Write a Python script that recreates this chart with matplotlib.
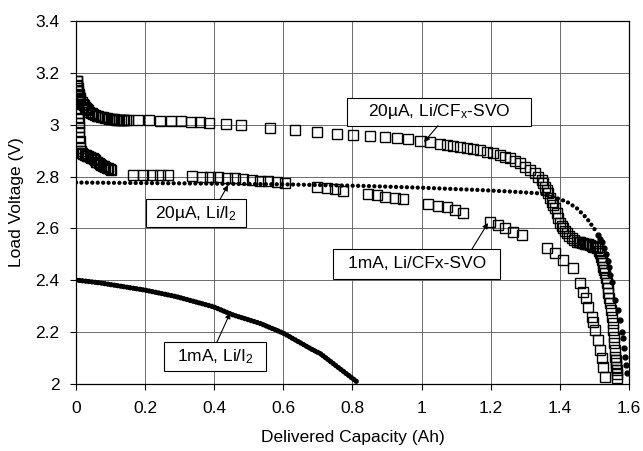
import numpy as np
import matplotlib.pyplot as plt
from matplotlib.patches import Rectangle
from matplotlib.ticker import FormatStrFormatter

plt.rcParams['font.family'] = ['Liberation Sans', 'DejaVu Sans']
plt.rcParams['mathtext.default'] = 'regular'

# 20uA, Li/CFx-SVO (open squares)
svo_20_x = [0.003, 0.004, 0.005, 0.006, 0.008, 0.009, 0.011, 0.013, 0.016, 0.019,
            0.022, 0.025, 0.028, 0.031, 0.035, 0.038, 0.042, 0.046, 0.050,
            0.055, 0.060, 0.065, 0.071, 0.077, 0.083, 0.090, 0.095, 0.100, 0.105,
            0.110, 0.115, 0.120, 0.125, 0.130, 0.135, 0.140, 0.145, 0.150,
            0.178, 0.211, 0.243, 0.274, 0.303, 0.332, 0.359, 0.386, 0.434, 0.477,
            0.561, 0.634, 0.697, 0.755, 0.801, 0.850, 0.894, 0.929, 0.961, 0.995,
            1.024, 1.053, 1.074, 1.091, 1.111, 1.131, 1.149, 1.169, 1.189, 1.207,
            1.227, 1.241, 1.256, 1.270, 1.285, 1.299, 1.314, 1.328, 1.337, 1.347,
            1.352, 1.357, 1.362, 1.366, 1.371, 1.376, 1.381, 1.386, 1.391, 1.395,
            1.400, 1.405, 1.410, 1.415, 1.420, 1.427, 1.435, 1.442, 1.449, 1.454,
            1.458, 1.463, 1.467, 1.472, 1.477, 1.482, 1.487, 1.492, 1.497, 1.502,
            1.507, 1.512, 1.516, 1.519, 1.522, 1.524, 1.525, 1.528, 1.531, 1.534,
            1.536, 1.538, 1.539, 1.542, 1.545, 1.548, 1.551, 1.553, 1.554, 1.556,
            1.558, 1.559, 1.560, 1.561, 1.562, 1.563, 1.564, 1.565, 1.565]
svo_20_v = [3.170, 3.150, 3.140, 3.130, 3.120, 3.110, 3.102, 3.095, 3.087, 3.080,
            3.075, 3.070, 3.065, 3.060, 3.055, 3.050, 3.047, 3.044, 3.041,
            3.038, 3.035, 3.033, 3.031, 3.029, 3.027, 3.025, 3.023, 3.022, 3.021,
            3.021, 3.020, 3.020, 3.020, 3.020, 3.019, 3.019, 3.018, 3.018,
            3.018, 3.017, 3.016, 3.015, 3.013, 3.011, 3.009, 3.007, 3.002, 3.000,
            2.988, 2.978, 2.970, 2.964, 2.960, 2.957, 2.953, 2.950, 2.946, 2.939,
            2.934, 2.926, 2.922, 2.919, 2.915, 2.911, 2.907, 2.902, 2.896, 2.890,
            2.883, 2.877, 2.871, 2.861, 2.851, 2.838, 2.825, 2.813, 2.800, 2.787,
            2.774, 2.761, 2.748, 2.735, 2.719, 2.703, 2.690, 2.678, 2.658, 2.639,
            2.619, 2.610, 2.600, 2.590, 2.581, 2.572, 2.562, 2.555, 2.549, 2.547,
            2.546, 2.545, 2.543, 2.541, 2.540, 2.538, 2.536, 2.533, 2.530, 2.527,
            2.523, 2.514, 2.504, 2.491, 2.478, 2.465, 2.452, 2.440, 2.427, 2.407,
            2.388, 2.369, 2.350, 2.330, 2.311, 2.285, 2.260, 2.234, 2.208, 2.183,
            2.157, 2.131, 2.105, 2.092, 2.079, 2.066, 2.054, 2.038, 2.022]

# 1mA, Li/CFx-SVO (open squares)
svo_1m_x = [0.003, 0.004, 0.004, 0.005, 0.005, 0.006, 0.006, 0.007, 0.007, 0.008,
            0.008, 0.009, 0.010, 0.011, 0.012, 0.014, 0.017, 0.021, 0.025, 0.029,
            0.033, 0.036, 0.040, 0.044, 0.048, 0.051, 0.055, 0.059, 0.062, 0.066,
            0.070, 0.073, 0.077, 0.081, 0.085, 0.089, 0.093, 0.097, 0.100,
            0.166, 0.193, 0.219, 0.243, 0.267,
            0.335, 0.364, 0.388, 0.412, 0.436, 0.460, 0.484, 0.508, 0.532, 0.556,
            0.581, 0.605,
            0.697, 0.726, 0.749, 0.773,
            0.845, 0.871, 0.894, 0.923, 0.946,
            1.019, 1.048, 1.074, 1.097, 1.120,
            1.198, 1.221, 1.241, 1.264, 1.290,
            1.362, 1.386, 1.410, 1.437,
            1.458, 1.467, 1.476, 1.482, 1.493, 1.496, 1.502, 1.510, 1.516, 1.522,
            1.525, 1.531]
svo_1m_v = [3.170, 3.152, 3.134, 3.116, 3.098, 3.080, 3.062, 3.044, 3.026, 3.008,
            2.990, 2.972, 2.954, 2.936, 2.910, 2.898, 2.890, 2.887, 2.885, 2.883,
            2.880, 2.879, 2.877, 2.873, 2.870, 2.866, 2.862, 2.858, 2.855, 2.851,
            2.848, 2.845, 2.842, 2.840, 2.837, 2.834, 2.832, 2.829, 2.827,
            2.806, 2.806, 2.806, 2.806, 2.806,
            2.803, 2.799, 2.799, 2.797, 2.796, 2.794, 2.791, 2.787, 2.784, 2.781,
            2.778, 2.775,
            2.759, 2.755, 2.751, 2.745,
            2.733, 2.729, 2.722, 2.718, 2.713,
            2.693, 2.687, 2.681, 2.671, 2.661,
            2.626, 2.613, 2.600, 2.587, 2.575,
            2.523, 2.504, 2.478, 2.446,
            2.388, 2.356, 2.330, 2.298, 2.260, 2.240, 2.208, 2.170, 2.131, 2.100,
            2.067, 2.028]

# 20uA, Li/I2 (dots) - plateau and tail
li_20_x = [0.000, 0.300, 0.600, 0.830, 1.000, 1.170, 1.260, 1.343, 1.380, 1.420,
           1.449, 1.478, 1.502]
li_20_v = [2.777, 2.774, 2.770, 2.764, 2.757, 2.748, 2.742, 2.735, 2.722, 2.703,
           2.678, 2.639, 2.594]
li_20_tail_x = [1.510, 1.516, 1.521, 1.528, 1.534, 1.538, 1.541, 1.545, 1.550,
                1.560, 1.567, 1.574, 1.579, 1.582, 1.586, 1.589, 1.591, 1.593]
li_20_tail_v = [2.575, 2.560, 2.549, 2.525, 2.500, 2.475, 2.450, 2.420, 2.394,
                2.324, 2.285, 2.247, 2.202, 2.176, 2.138, 2.105, 2.073, 2.041]

# 1mA, Li/I2 (dense dots)
li_1m_x = [0.000, 0.069, 0.200, 0.290, 0.397, 0.455, 0.532, 0.600, 0.686, 0.706, 0.816]
li_1m_v = [2.401, 2.390, 2.362, 2.337, 2.298, 2.266, 2.234, 2.196, 2.131, 2.118, 2.005]

x_ticks = [0, 0.2, 0.4, 0.6, 0.8, 1.0, 1.2, 1.4, 1.6]
y_ticks = [2.0, 2.2, 2.4, 2.6, 2.8, 3.0, 3.2, 3.4]


def label_box(ax, x0, x1, y0, y1, text, tail, head):
    ax.add_patch(Rectangle((x0, y0), x1 - x0, y1 - y0, facecolor='white',
                           edgecolor='black', linewidth=0.8, zorder=5))
    ax.text((x0 + x1) / 2, (y0 + y1) / 2, text, ha='center', va='center',
            fontsize=12.5, zorder=6)
    ax.annotate('', xy=head, xytext=tail, zorder=6,
                arrowprops=dict(arrowstyle='-|>', color='black', lw=0.8,
                                mutation_scale=8, shrinkA=0, shrinkB=0))


fig = plt.figure(figsize=(6.43, 4.51), dpi=100)
ax = fig.add_axes([0.1182, 0.1486, 0.8600, 0.8048])

# Li/I2 traces
ax.plot(li_1m_x, li_1m_v, color='black', lw=3.8, linestyle=(0, (0.01, 0.6)),
        dash_capstyle='round', zorder=3)
ax.plot(li_20_x, li_20_v, color='black', lw=3.1, linestyle=(0, (0.01, 1.25)),
        dash_capstyle='round', zorder=3)
ax.plot(li_20_tail_x, li_20_tail_v, 'o', color='black', ms=3.5, zorder=3)

# SVO traces
ax.plot(svo_20_x, svo_20_v, 's', mfc='none', mec='black', ms=7.0, mew=1.0, zorder=4)
ax.plot(svo_1m_x, svo_1m_v, 's', mfc='none', mec='black', ms=7.0, mew=1.0, zorder=4)

ax.set_xlim(0, 1.6)
ax.set_ylim(2.0, 3.4)
ax.set_xticks(x_ticks)
ax.set_yticks(y_ticks)
ax.xaxis.set_major_formatter(FormatStrFormatter('%g'))
ax.yaxis.set_major_formatter(FormatStrFormatter('%g'))
ax.tick_params(direction='out', length=4, width=0.8, labelsize=12.5, pad=8)
ax.grid(True, color='#555555', lw=0.6)
ax.set_axisbelow(True)
for s in ax.spines.values():
    s.set_linewidth(0.9)

ax.set_xlabel('Delivered Capacity (Ah)', fontsize=12.5, labelpad=10)
ax.set_ylabel('Load Voltage (V)', fontsize=12.5, labelpad=8)

label_box(ax, 0.784, 1.316, 2.996, 3.104, '20\u00b5A, Li/CF$_x$-SVO',
          (1.047, 2.996), (1.007, 2.933))
label_box(ax, 0.203, 0.492, 2.605, 2.713, '20\u00b5A, Li/I$_2$',
          (0.417, 2.713), (0.440, 2.767))
label_box(ax, 0.744, 1.227, 2.405, 2.521, '1mA, Li/CFx-SVO',
          (1.146, 2.521), (1.192, 2.621))
label_box(ax, 0.255, 0.550, 2.050, 2.162, '1mA, Li/I$_2$',
          (0.408, 2.162), (0.446, 2.274))

fig.savefig('out.png', dpi=100)
